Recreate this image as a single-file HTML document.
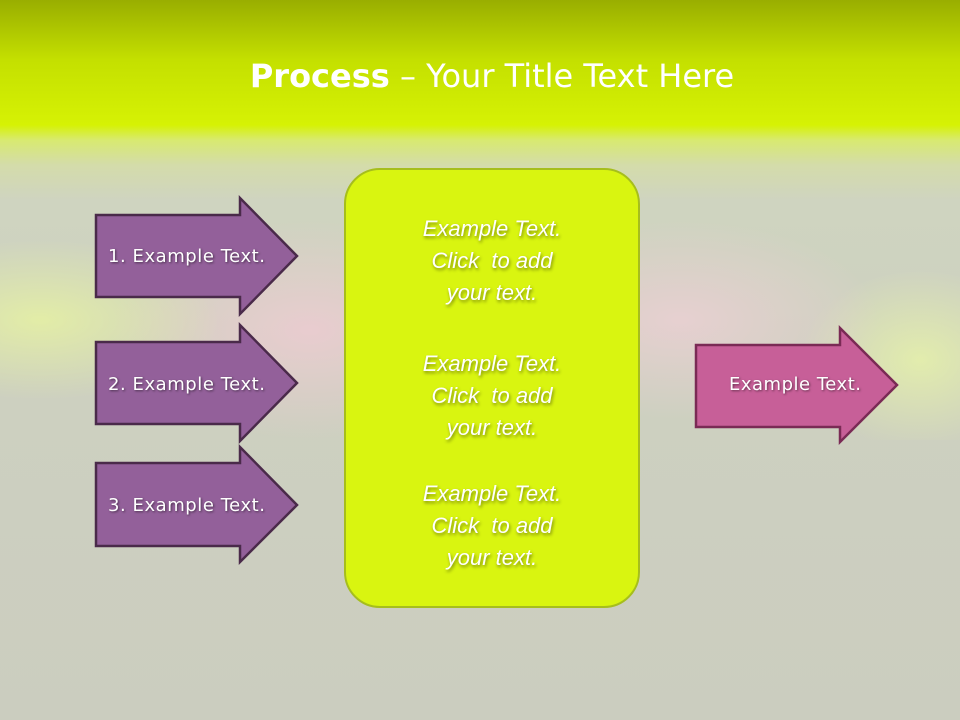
<!DOCTYPE html>
<html><head><style>
body{margin:0;width:960px;height:720px;overflow:hidden;font-family:"Liberation Sans",sans-serif}
.bg{position:absolute;inset:0;background:linear-gradient(to bottom,#99ae00 0px,#c4e000 60px,#d6f204 125px,#d8ea70 140px,#d4dcaa 165px,#cfd4c0 200px,#cdd0c0 400px,#cbcdbf 720px)}
.glow{position:absolute;left:0;top:200px;width:960px;height:240px;background:radial-gradient(ellipse 180px 80px at 40px 120px,rgba(240,255,150,.6),transparent),radial-gradient(ellipse 200px 110px at 310px 130px,rgba(255,200,220,.55),transparent),radial-gradient(ellipse 200px 100px at 680px 120px,rgba(255,205,225,.5),transparent),radial-gradient(ellipse 120px 90px at 920px 160px,rgba(240,255,160,.6),transparent)}
.title{position:absolute;top:57px;left:0;width:984px;text-align:center;color:#fff;font-size:32px;font-family:"DejaVu Sans","Liberation Sans",sans-serif}
.box{position:absolute;left:344px;top:168px;width:292px;height:436px;border:2px solid #a6be1c;border-radius:36px;background:#d9f510}
.bt{position:absolute;left:344px;width:296px;text-align:center;color:#fff;font-style:italic;font-size:22px;line-height:32px;text-shadow:1px 2px 3px rgba(0,0,0,.45)}
svg{position:absolute;left:0;top:0}
</style></head><body>
<div class="bg"></div><div class="glow"></div>
<div class="title"><b>Process</b> – Your Title Text Here</div>
<svg width="960" height="720">
<g stroke="#4a2a4a" stroke-width="2.5" fill="#93609a">
<polygon points="96,215 240,215 240,198 297,256 240,314 240,297 96,297"/>
<polygon points="96,342 240,342 240,325 297,383 240,441 240,424 96,424"/>
<polygon points="96,463 240,463 240,447 297,505 240,562 240,546 96,546"/>
<polygon fill="#c75f98" stroke="#7a2a55" points="696,345 840,345 840,328 897,385 840,442 840,427 696,427"/>
</g>
<g fill="#fff" font-size="18" font-family="DejaVu Sans,sans-serif" textLength="157" style="text-shadow:1px 1px 2px rgba(0,0,0,.5)">
<text x="108" y="262" textLength="157">1. Example Text.</text>
<text x="108" y="390" textLength="157">2. Example Text.</text>
<text x="108" y="511" textLength="157">3. Example Text.</text>
<text x="729" y="390" textLength="132">Example Text.</text>
</g>
</svg>
<div class="box"></div>
<div class="bt" style="top:213px">Example Text.<br>Click&nbsp; to add<br>your text.</div>
<div class="bt" style="top:348px">Example Text.<br>Click&nbsp; to add<br>your text.</div>
<div class="bt" style="top:478px">Example Text.<br>Click&nbsp; to add<br>your text.</div>
</body></html>
